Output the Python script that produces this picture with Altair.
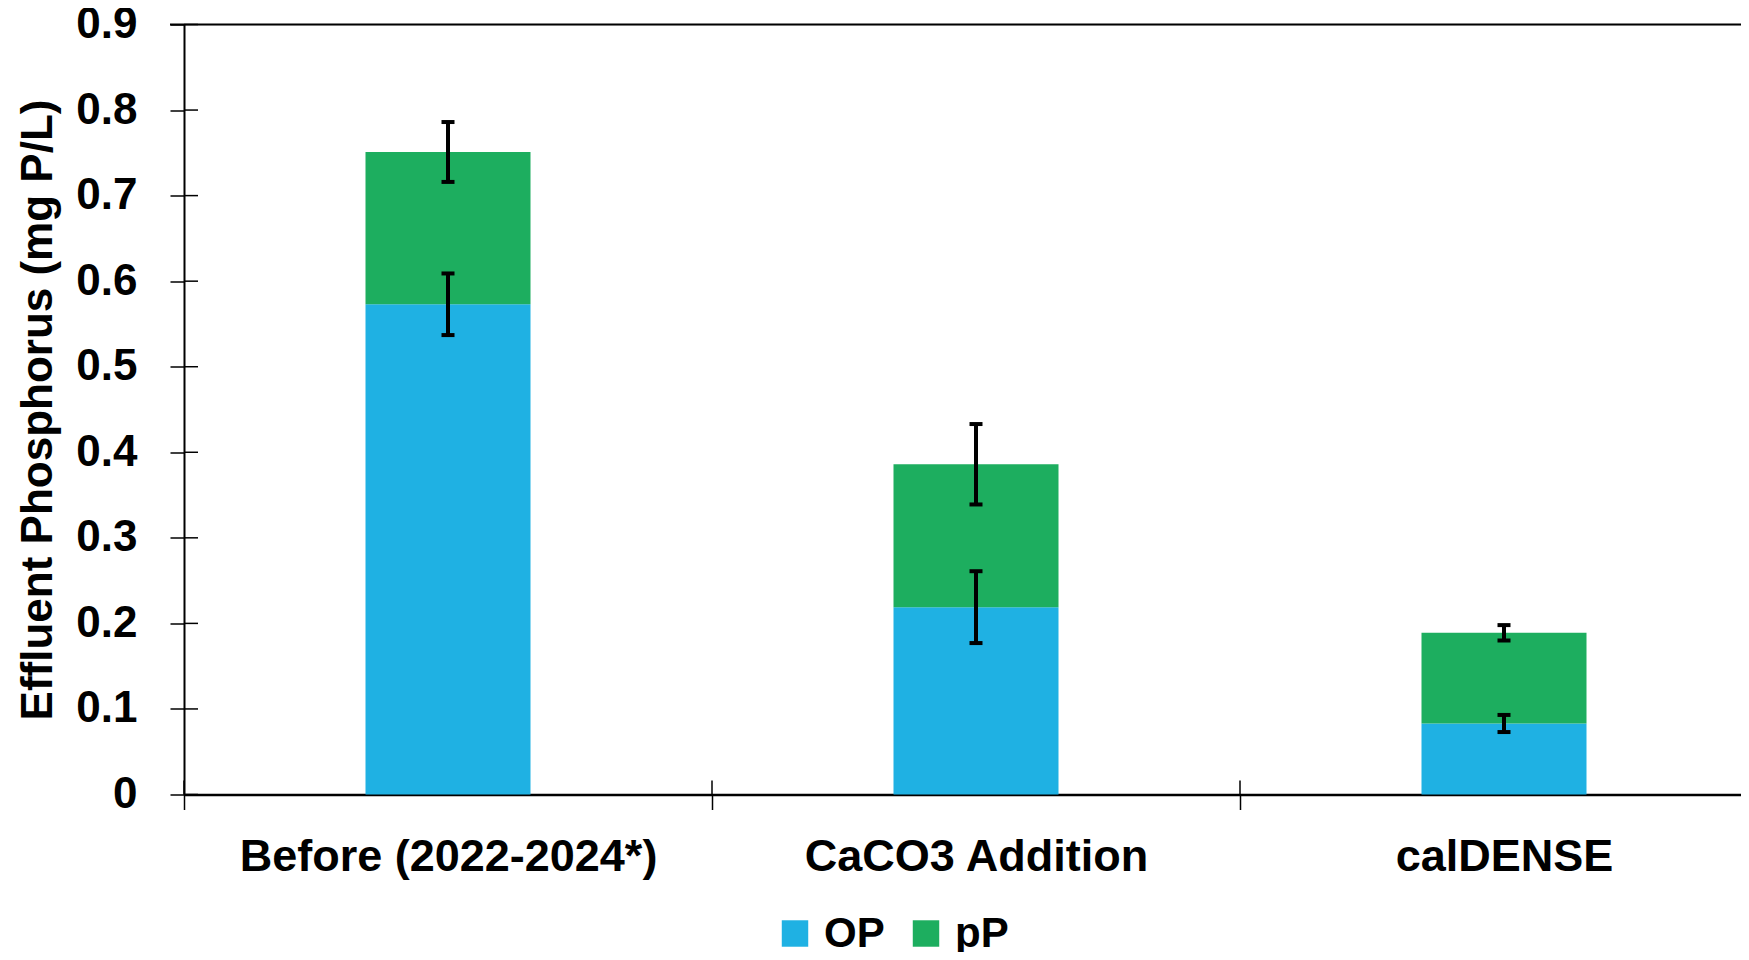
import altair as alt
import pandas as pd

categories = ["Before (2022-2024*)", "CaCO3 Addition", "calDENSE"]
op_mean = [0.573, 0.219, 0.083]
pp_mean = [0.178, 0.167, 0.106]
op_err = [0.036, 0.042, 0.010]
pp_err = [0.035, 0.047, 0.009]
series = ["OP", "pP"]
colors = ["#1FB1E3", "#1DAE5F"]
y_ticks = [0, 0.1, 0.2, 0.3, 0.4, 0.5, 0.6, 0.7, 0.8, 0.9]

FONT = "Liberation Sans"
W, H = 1557, 770

rows = []
for c, o, p in zip(categories, op_mean, pp_mean):
    rows.append({"cat": c, "series": "OP", "value": o, "ord": 0})
    rows.append({"cat": c, "series": "pP", "value": p, "ord": 1})
bars_df = pd.DataFrame(rows)

err_rows = []
for c, o, p, oe, pe in zip(categories, op_mean, pp_mean, op_err, pp_err):
    err_rows.append({"cat": c, "lo": o - oe, "hi": o + oe})
    t = o + p
    err_rows.append({"cat": c, "lo": t - pe, "hi": t + pe})
err_df = pd.DataFrame(err_rows)
tick_df = pd.DataFrame({"v": y_ticks})
cat_df = pd.DataFrame({"cat": categories})

xscale = alt.Scale(domain=categories, range=[0, 1584], paddingInner=0, paddingOuter=0)
yscale = alt.Scale(domain=[0, 0.9], nice=False, zero=True)

bars = alt.Chart(bars_df).mark_bar(size=165).encode(
    x=alt.X("cat:N", scale=xscale, sort=categories,
            axis=alt.Axis(title=None, labelAngle=0, tickBand="extent", tickSize=15,
                          tickWidth=1.5, tickColor="black", domainColor="black",
                          domainWidth=2.5, labelFont=FONT, labelFontSize=45,
                          labelFontWeight="bold", labelColor="black", labelPadding=25,
                          labelLimit=0)),
    y=alt.Y("value:Q", stack="zero", scale=yscale,
            axis=alt.Axis(title="Effluent Phosphorus (mg P/L)", values=y_ticks,
                          labelExpr="datum.value == 0 ? '0' : format(datum.value, '.1f')",
                          tickSize=14, tickWidth=1.5, tickColor="black",
                          domainColor="black", domainWidth=2, grid=False,
                          labelFont=FONT, labelFontSize=44, labelFontWeight="bold",
                          labelColor="black", labelPadding=33, labelLimit=0,
                          titleFont=FONT, titleFontSize=44, titleFontWeight="bold",
                          titleColor="black", titleX=-146, titleBaseline="middle")),
    color=alt.Color("series:N", scale=alt.Scale(domain=series, range=colors),
                    legend=alt.Legend(title=None, orient="none", direction="horizontal",
                                      legendX=590, legendY=888, padding=0,
                                      symbolType="square", symbolSize=700,
                                      symbolStrokeWidth=0, symbolOpacity=1,
                                      labelFont=FONT, labelFontSize=42,
                                      labelFontWeight="bold", labelColor="black",
                                      labelOffset=8, columnPadding=20, labelLimit=0)),
    order=alt.Order("ord:Q"),
)

err_rule = alt.Chart(err_df).mark_rule(color="black", strokeWidth=4).encode(
    x=alt.X("cat:N", scale=xscale, sort=categories),
    y=alt.Y("lo:Q", scale=yscale),
    y2="hi:Q",
)
cap_lo = alt.Chart(err_df).mark_tick(color="black", size=13, thickness=4, opacity=1).encode(
    x=alt.X("cat:N", scale=xscale, sort=categories),
    y=alt.Y("lo:Q", scale=yscale),
)
cap_hi = alt.Chart(err_df).mark_tick(color="black", size=13, thickness=4, opacity=1).encode(
    x=alt.X("cat:N", scale=xscale, sort=categories),
    y=alt.Y("hi:Q", scale=yscale),
)

y_inner = alt.Chart(tick_df).mark_rule(color="black", strokeWidth=1.5).encode(
    y=alt.Y("v:Q", scale=yscale),
    x=alt.value(0),
    x2=alt.value(14),
)
top_line = alt.Chart(pd.DataFrame({"v": [0.9]})).mark_rule(color="black", strokeWidth=2).encode(
    y=alt.Y("v:Q", scale=yscale),
    x=alt.value(-14),
    x2=alt.value(W),
)
x_inner = alt.Chart(cat_df).mark_rule(color="black", strokeWidth=1.5).encode(
    x=alt.X("cat:N", scale=xscale, sort=categories, bandPosition=0),
    y=alt.value(H - 14),
    y2=alt.value(H),
)

chart = alt.layer(bars, err_rule, cap_lo, cap_hi, y_inner, x_inner, top_line).properties(
    width=W, height=H,
    autosize=alt.AutoSizeParams(type="none"),
    padding={"left": 176, "top": 16.5, "right": 0, "bottom": 157},
).configure_view(stroke=None).configure(background="white")

chart.save("out.html", embed_options={"renderer": "svg", "actions": False})
